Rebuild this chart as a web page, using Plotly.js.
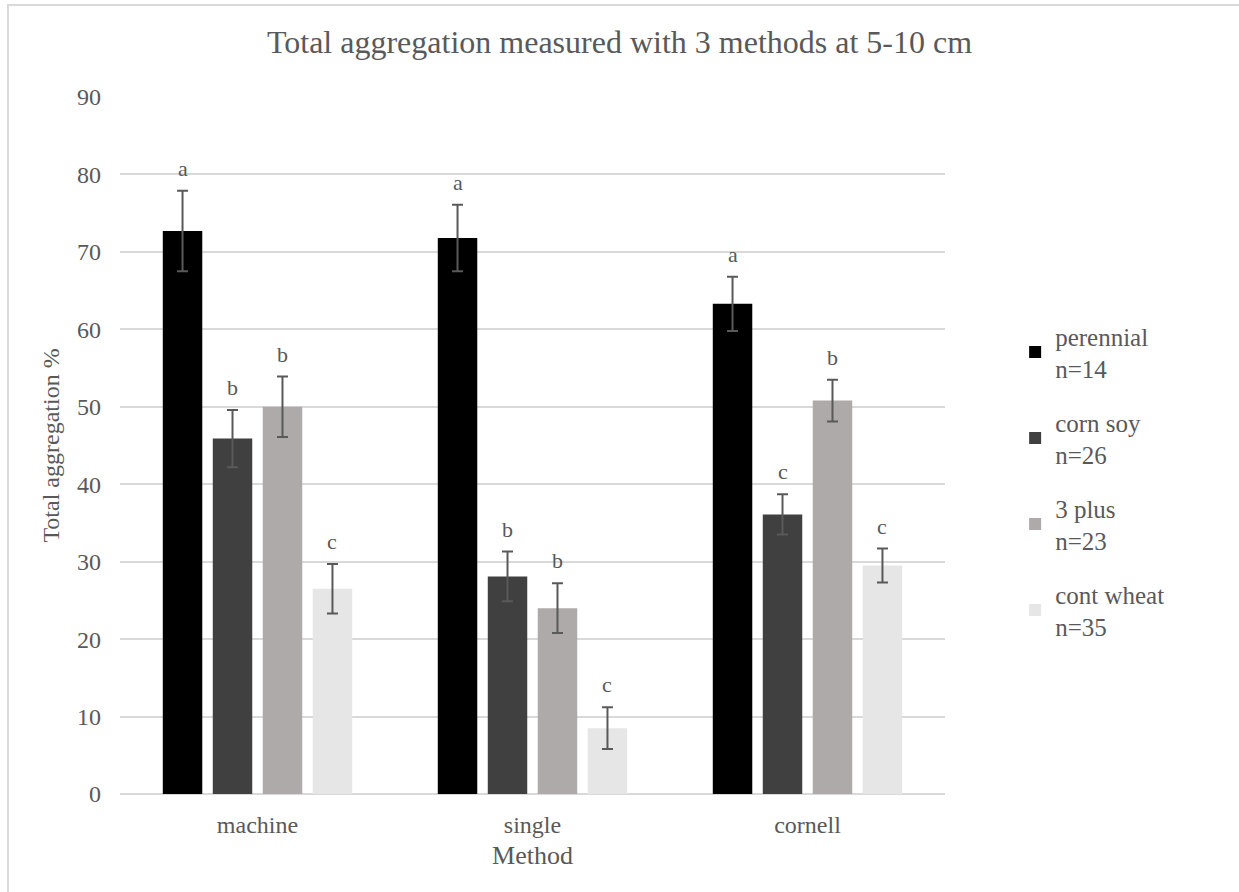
<!DOCTYPE html>
<html>
<head>
<meta charset="utf-8">
<script src="https://cdn.plot.ly/plotly-3.0.1.min.js"></script>
<style>
html,body{margin:0;padding:0;background:#fff;overflow:hidden;}
#chart{position:absolute;left:0;top:0;width:1239px;height:892px;}
#frame{position:absolute;left:7px;top:4px;width:1300px;height:1000px;border:2px solid #d9d9d9;pointer-events:none;}
</style>
</head>
<body>
<div id="chart"></div>
<div id="frame"></div>
<script>
const categories = ["machine", "single", "cornell"];
const seriesNames = ["perennial<br>n=14", "corn soy<br>n=26", "3 plus<br>n=23", "cont wheat<br>n=35"];
const perennial = [72.7, 71.8, 63.3];
const cornSoy = [45.9, 28.1, 36.1];
const threePlus = [50.0, 24.0, 50.8];
const contWheat = [26.5, 8.5, 29.5];
const perennialErr = [5.2, 4.3, 3.5];
const cornSoyErr = [3.7, 3.2, 2.6];
const threePlusErr = [3.9, 3.2, 2.7];
const contWheatErr = [3.2, 2.7, 2.2];
const perennialLetters = ["a", "a", "a"];
const cornSoyLetters = ["b", "b", "c"];
const threePlusLetters = ["b", "b", "b"];
const contWheatLetters = ["c", "c", "c"];
const colors = ["#000000", "#404040", "#AEAAAA", "#E7E6E6"];

const values = [perennial, cornSoy, threePlus, contWheat];
const errs = [perennialErr, cornSoyErr, threePlusErr, contWheatErr];
const letters = [perennialLetters, cornSoyLetters, threePlusLetters, contWheatLetters];

const FONT = "Liberation Serif, Times New Roman, serif";
const TXT = "#595959";
const bargap = 0.273;

const traces = values.map((v, i) => ({
  type: "bar",
  name: seriesNames[i],
  legendgroup: "g" + i,
  x: categories,
  y: v,
  marker: {color: colors[i], line: {width: 0}},
  error_y: {type: "data", array: errs[i], visible: true, color: "#595959", thickness: 2, width: 5.5},
  hoverinfo: "skip"
}));

const annotations = [];
values.forEach((v, i) => {
  v.forEach((val, j) => {
    annotations.push({
      x: j + (i - 1.5) * (1 - bargap) / 4,
      y: val + errs[i][j],
      xref: "x", yref: "y",
      text: letters[i][j],
      showarrow: false,
      yanchor: "bottom",
      yshift: 8,
      font: {family: FONT, size: 22, color: TXT}
    });
  });
});

const layout = {
  width: 1239, height: 892,
  margin: {l: 120, r: 294, t: 97, b: 98},
  paper_bgcolor: "#ffffff", plot_bgcolor: "#ffffff",
  font: {family: FONT, color: TXT, size: 24},
  title: {text: "Total aggregation measured with 3 methods at 5-10 cm", font: {family: FONT, size: 32, color: TXT},
          x: 0.5, xref: "container", xanchor: "center", y: 1 - 42/892, yref: "container", yanchor: "middle"},
  barmode: "group",
  bargap: bargap,
  bargroupgap: 0.21,
  xaxis: {
    type: "category",
    title: {text: "Method", font: {family: FONT, size: 26, color: TXT}, standoff: 8},
    tickfont: {family: FONT, size: 24, color: TXT},
    showline: false, showgrid: false, ticks: "", zeroline: false,
    ticklabelstandoff: 14
  },
  yaxis: {
    range: [0, 90], dtick: 10,
    title: {text: "Total aggregation %", font: {family: FONT, size: 24, color: TXT}, standoff: 10},
    tickfont: {family: FONT, size: 24, color: TXT},
    showgrid: true, gridcolor: "#d9d9d9", gridwidth: 2,
    zeroline: true, zerolinecolor: "#d9d9d9", zerolinewidth: 2,
    ticks: "", showline: false, ticklabelstandoff: 18
  },
  legend: {
    x: 1.085, xanchor: "left", y: 0.69, yanchor: "top",
    font: {family: FONT, size: 25, color: TXT},
    traceorder: "grouped", tracegroupgap: 18,
    itemwidth: 30, bgcolor: "rgba(0,0,0,0)"
  },
  annotations: annotations,
  showlegend: true
};

Plotly.newPlot("chart", traces, layout, {displayModeBar: false, staticPlot: true});
</script>
</body>
</html>
